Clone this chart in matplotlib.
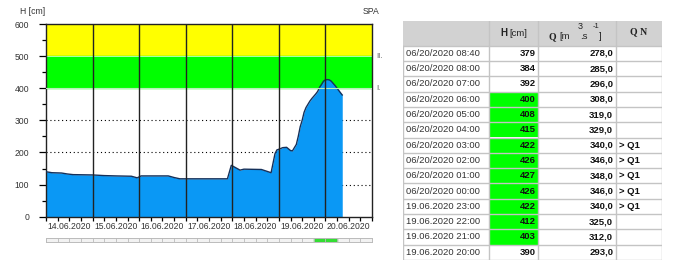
import numpy as np
import pandas as pd
import matplotlib
matplotlib.use("Agg")
import matplotlib.pyplot as plt

plt.rcParams['font.family'] = ['Liberation Sans', 'DejaVu Sans']

# water level H [cm]
times = ["2020-06-14 00:00", "2020-06-14 03:00", "2020-06-14 08:00", "2020-06-14 11:00",
         "2020-06-14 14:00", "2020-06-15 00:00", "2020-06-15 06:00", "2020-06-15 12:00",
         "2020-06-15 20:00", "2020-06-15 23:00", "2020-06-16 01:00", "2020-06-16 15:00",
         "2020-06-16 18:00", "2020-06-16 21:00", "2020-06-17 21:30", "2020-06-17 23:30",
         "2020-06-18 04:00", "2020-06-18 06:00", "2020-06-18 15:00", "2020-06-18 20:00",
         "2020-06-18 22:00", "2020-06-18 23:00", "2020-06-19 00:00", "2020-06-19 02:00",
         "2020-06-19 04:00", "2020-06-19 06:00", "2020-06-19 07:00", "2020-06-19 09:00",
         "2020-06-19 10:00", "2020-06-19 11:00", "2020-06-19 12:00", "2020-06-19 13:00",
         "2020-06-19 14:00", "2020-06-19 15:00", "2020-06-19 16:00", "2020-06-19 17:00",
         "2020-06-19 18:00", "2020-06-19 19:00", "2020-06-19 20:00", "2020-06-19 21:00",
         "2020-06-19 22:00", "2020-06-19 23:00", "2020-06-20 00:00", "2020-06-20 01:00",
         "2020-06-20 02:00", "2020-06-20 03:00", "2020-06-20 04:00", "2020-06-20 05:00",
         "2020-06-20 06:00", "2020-06-20 07:00", "2020-06-20 08:00", "2020-06-20 08:40"]
level = [140, 137, 136, 133,
         131, 130, 128, 127,
         126, 121, 127, 127,
         122, 118, 118, 160,
         145, 148, 147, 137,
         196, 208, 210, 215,
         216, 206, 205, 225,
         250, 280, 300, 325,
         340, 350, 360, 368,
         375, 382, 390, 403,
         412, 422, 426, 427,
         426, 422, 415, 408,
         400, 392, 384, 379]

# table data
tab_dates = ["06/20/2020 08:40", "06/20/2020 08:00", "06/20/2020 07:00", "06/20/2020 06:00",
             "06/20/2020 05:00", "06/20/2020 04:00", "06/20/2020 03:00", "06/20/2020 02:00",
             "06/20/2020 01:00", "06/20/2020 00:00", "19.06.2020 23:00", "19.06.2020 22:00",
             "19.06.2020 21:00", "19.06.2020 20:00"]
tab_h = [379, 384, 392, 400, 408, 415, 422, 426, 427, 426, 422, 412, 403, 390]
tab_q = [278.0, 285.0, 296.0, 308.0, 319.0, 329.0, 340.0, 346.0, 348.0, 346.0, 340.0, 325.0, 312.0, 293.0]
tab_qn = ["", "", "", "", "", "", "> Q1", "> Q1", "> Q1", "> Q1", "> Q1", "", "", ""]

day_labels = ["14.06.2020", "15.06.2020", "16.06.2020", "17.06.2020",
              "18.06.2020", "19.06.2020", "20.06.2020"]
flood_levels = [400, 500, 600]
flood_names = ["I.", "II."]

t = pd.to_datetime(times)
t0 = pd.Timestamp("2020-06-14")
t1 = pd.Timestamp("2020-06-21")

W, H = 680, 263
fig = plt.figure(figsize=(W / 100, H / 100), dpi=100)

def fig_rect(x0, y0, x1, y1):
    return [x0 / W, 1 - y1 / H, (x1 - x0) / W, (y1 - y0) / H]

ax = fig.add_axes(fig_rect(46, 24, 372, 216.7))
ax.axhspan(flood_levels[1], flood_levels[2], color='#FFFF00', zorder=0)
ax.axhspan(flood_levels[0], flood_levels[1], color='#00FF00', zorder=0)
for yv in [100, 200, 300]:
    ax.axhline(yv, color='black', lw=0.8, ls=(0, (1, 2.5)), zorder=1)
ax.fill_between(t, level, 0, color='#0A98F5', lw=0, zorder=2)
ax.plot(t, level, color='#14305A', lw=1.0, zorder=3)
ax.axhline(flood_levels[0], color='#B8F0B8', lw=0.8, zorder=3)
ax.axhline(flood_levels[1], color='#C8FFC8', lw=0.6, zorder=1)
days = pd.date_range("2020-06-15", "2020-06-20", freq="D")
for d in days:
    ax.axvline(d, color='#222222', lw=1.0, zorder=4)

ax.set_xlim(t0, t1)
ax.set_ylim(0, 600)
ax.set_yticks(np.arange(0, 601, 100))
ax.set_yticks(np.arange(50, 600, 100), minor=True)
ax.set_xticks(pd.date_range(t0, t1, freq="6h"))
ax.set_xticklabels([])
ax.tick_params(axis='y', which='major', length=5, width=0.9, pad=7, labelsize=6.2, labelcolor='#333333')
ax.tick_params(axis='y', which='minor', length=3, width=0.9)
ax.tick_params(axis='x', which='major', length=3, width=0.9)
for s in ax.spines.values():
    s.set_color('#222222')
    s.set_linewidth(1.0)

# day labels centred on noon
noons = pd.date_range("2020-06-14 12:00", "2020-06-20 12:00", freq="D")
for nn, lab in zip(noons, day_labels):
    ax.text(nn, -0.05, lab, transform=ax.get_xaxis_transform(), fontsize=6.2,
            color='#333333', ha='center', va='center')

fig.text(20 / W, 1 - 12 / H, "H [cm]", fontsize=6.2, color='#333333', va='center', ha='left')
fig.text(363 / W, 1 - 12 / H, "SPA", fontsize=6.2, color='#333333', va='center', ha='left')
for lv, nm in zip(flood_levels[:2], flood_names):
    ax.text(1.012, lv, nm, transform=ax.get_yaxis_transform(), fontsize=5.5,
            color='#555555', va='center', ha='left')

# scroll strip under the chart
sax = fig.add_axes(fig_rect(46, 237.5, 372, 241.5))
sax.set_xlim(t0, t1)
sax.set_ylim(0, 1)
sax.axvspan(t0, t1, color='#F2F2F2', zorder=0)
sax.axvspan(pd.Timestamp("2020-06-19 18:00"), pd.Timestamp("2020-06-20 06:00"), color='#33DD33', zorder=1)
for tt in pd.date_range(t0, t1, freq="6h"):
    sax.axvline(tt, color='#BBBBBB', lw=0.6, zorder=2)
sax.set_xticks([])
sax.set_yticks([])
for s in sax.spines.values():
    s.set_color('#BBBBBB')
    s.set_linewidth(0.7)

# table
col_w = [85.7, 49.6, 77.4, 46.0]
head_h = 24.7
row_h = 15.3
col_x = np.concatenate([[0], np.cumsum(col_w)])
n = len(tab_dates)
tab_h_total = head_h + n * row_h
tax = fig.add_axes(fig_rect(403, 21, 403 + col_x[-1], 21 + tab_h_total))
tax.set_xlim(0, col_x[-1])
tax.set_ylim(tab_h_total, 0)
tax.axis('off')
grid_c = '#C4C4C4'
tax.add_patch(plt.Rectangle((0, 0), col_x[-1], head_h, color='#D2D2D2', lw=0))
for i, hv in enumerate(tab_h):
    if hv >= flood_levels[0]:
        y0 = head_h + i * row_h
        tax.add_patch(plt.Rectangle((col_x[1], y0), col_w[1], row_h, color='#00FF00', lw=0))
for i in range(n + 1):
    yy = head_h + i * row_h
    tax.plot([0, col_x[-1]], [yy, yy], color=grid_c, lw=1.0)
for xx in col_x:
    tax.plot([xx, xx], [head_h if xx in (0, col_x[-1]) else 0, tab_h_total], color=grid_c, lw=1.0)

# header
hx = col_x[1]
tax.text(hx + 12, 12, "H", ha='left', va='center', fontsize=7, fontweight='bold', color='#222222')
tax.text(hx + 21, 12, "[cm]", ha='left', va='center', fontsize=6.8, color='#222222')
qx = col_x[2]
tax.text(qx + 10.5, 15.5, "Q", ha='left', va='center', fontsize=7, fontweight='bold',
         family='Liberation Serif', color='#222222')
tax.text(qx + 21.5, 15.5, "[m", ha='left', va='center', fontsize=6.8, color='#222222')
tax.text(qx + 39, 5, "3", ha='left', va='center', fontsize=6.5, color='#222222')
tax.text(qx + 42, 15.5, ".s", ha='left', va='center', fontsize=6.8, color='#222222')
tax.text(qx + 54, 5, "-1", ha='left', va='center', fontsize=5.5, color='#222222')
tax.text(qx + 61, 15.5, "]", ha='left', va='center', fontsize=6.8, color='#222222')
tax.text(col_x[3] + col_w[3] / 2, 11, "Q N", ha='center', va='center', fontsize=7,
         fontweight='bold', family='Liberation Serif', color='#222222')

for i in range(n):
    yc = head_h + (i + 0.5) * row_h
    tax.text(col_x[0] + 3, yc, tab_dates[i], ha='left', va='center', fontsize=6.8, color='#333333')
    tax.text(col_x[2] - 2.5, yc, str(tab_h[i]), ha='right', va='center', fontsize=6.8,
             fontweight='bold', color='#111111')
    tax.text(col_x[3] - 2.5, yc, f"{tab_q[i]:.1f}".replace('.', ','), ha='right', va='center',
             fontsize=6.8, fontweight='bold', color='#111111')
    tax.text(col_x[3] + 3.5, yc, tab_qn[i], ha='left', va='center', fontsize=6.8,
             fontweight='bold', color='#111111')

fig.savefig("out.png", dpi=100)
